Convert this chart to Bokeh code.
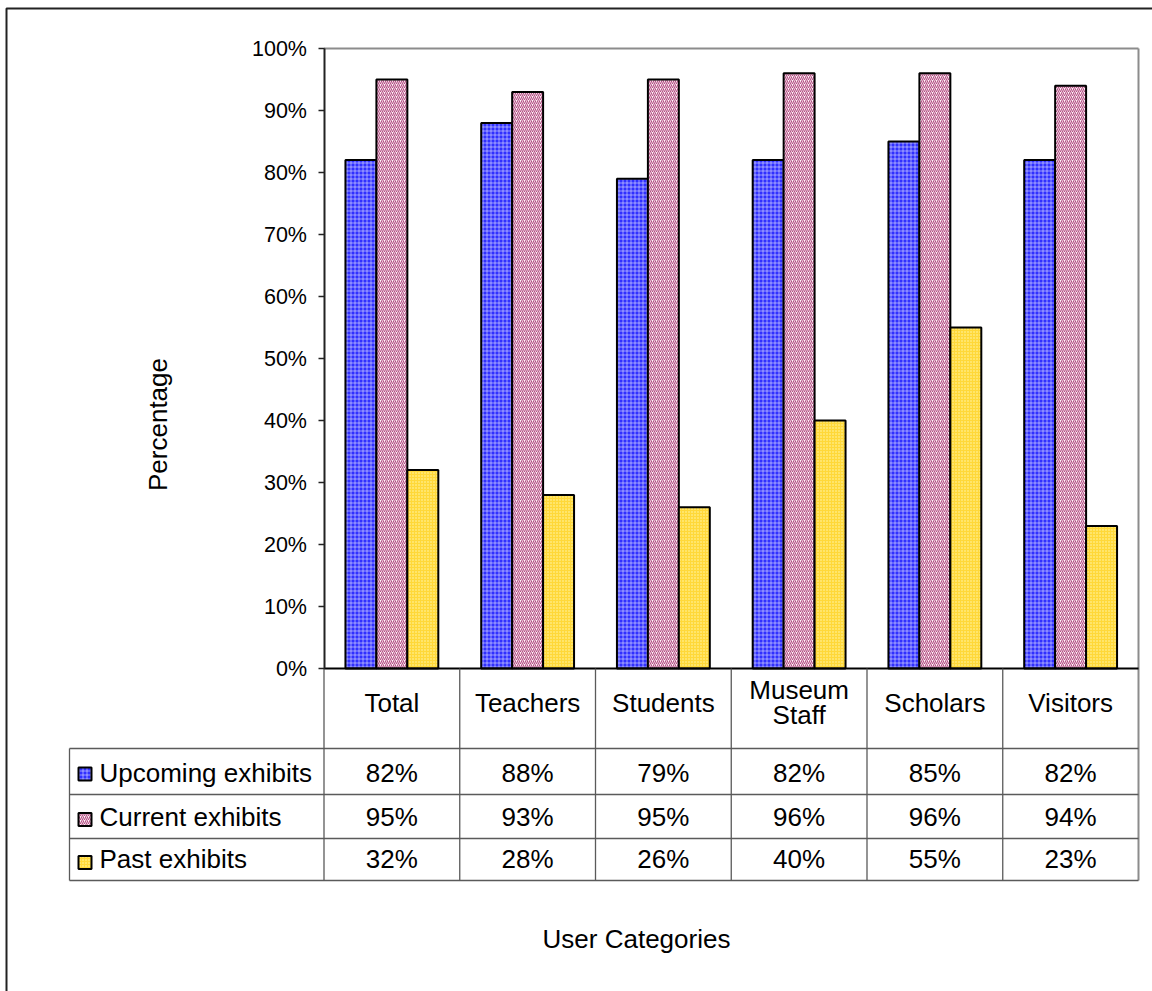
import numpy as np
from bokeh.plotting import figure
from bokeh.models import (ColumnDataSource, Range1d, LinearAxis, FixedTicker,
                          PrintfTickFormatter, Grid)
from bokeh.transform import dodge
from bokeh.core.properties import value
from bokeh.embed import file_html
from bokeh.resources import INLINE

# ---- data -------------------------------------------------------------
categories = ["Total", "Teachers", "Students", "Museum Staff", "Scholars", "Visitors"]
series_names = ["Upcoming exhibits", "Current exhibits", "Past exhibits"]
upcoming = [82, 88, 79, 82, 85, 82]
current = [95, 93, 95, 96, 96, 94]
past = [32, 28, 26, 40, 55, 23]
y_ticks = list(range(0, 101, 10))
x_title = "User Categories"
y_title = "Percentage"

# ---- page geometry (pixels) --------------------------------------------
W, H = 1152, 991
FONT = "Liberation Sans"
PLOT_L, PLOT_R = 323.5, 1138.0
PLOT_T, PLOT_B = 48.0, 668.0
TABLE_ROWS = [668.0, 748.0, 794.0, 838.0, 880.0]   # horizontal rules of the data table
LEGEND_L = 69.0
col_w = (PLOT_R - PLOT_L) / len(categories)
px_per_pct = (PLOT_B - PLOT_T) / 100.0

x_range = Range1d(-PLOT_L / col_w, (W - PLOT_L) / col_w)
y_range = Range1d(-(H - PLOT_B) / px_per_pct, PLOT_B / px_per_pct)

p = figure(width=W, height=H, x_range=x_range, y_range=y_range,
           output_backend="svg", toolbar_location=None,
           x_axis_location=None, y_axis_location=None, min_border=0)
p.center = [r for r in p.center if not isinstance(r, Grid)]
p.outline_line_color = None
p.background_fill_color = "white"
p.border_fill_color = "white"
p.extra_x_ranges = {"px": Range1d(0, W)}
p.extra_y_ranges = {"px": Range1d(H, 0)}

# ---- y axis pinned to the left edge of the plot area --------------------
yaxis = LinearAxis(fixed_location=0, bounds=(0, 100),
                   ticker=FixedTicker(ticks=y_ticks),
                   formatter=PrintfTickFormatter(format="%d%%"))
yaxis.axis_line_color = "#222222"
yaxis.axis_line_width = 2
yaxis.major_tick_line_color = "#222222"
yaxis.major_tick_line_width = 1.5
yaxis.major_tick_out = 6
yaxis.major_tick_in = 0
yaxis.minor_tick_out = 0
yaxis.minor_tick_in = 0
yaxis.major_label_standoff = 11
yaxis.major_label_text_font = FONT
yaxis.major_label_text_font_size = "21.5px"
yaxis.major_label_text_color = "black"
p.add_layout(yaxis, "left")

# ---- plot-area frame and category axis line ----------------------------
p.line(x=[0, len(categories)], y=[100, 100], line_color="#8c8c8c", line_width=2)
p.line(x=[len(categories)] * 2, y=[100, -(TABLE_ROWS[-1] - PLOT_B) / px_per_pct],
       line_color="#8c8c8c", line_width=2)

# ---- bars --------------------------------------------------------------
styles = [
    dict(fill_color="#3030ff", hatch_pattern="+", hatch_color="white",
         hatch_scale=4, hatch_weight=1, hatch_alpha=0.5),
    dict(fill_color="#fff4f9", hatch_pattern="/", hatch_color="#b24d82",
         hatch_scale=4, hatch_weight=1.1),
    dict(fill_color="#ffd839", hatch_pattern=".", hatch_color="#fff6b4",
         hatch_scale=3, hatch_weight=1),
]
series = [upcoming, current, past]
src = ColumnDataSource(dict(x=[i + 0.5 for i in range(len(categories))],
                            upcoming=upcoming, current=current, past=past))
bar_w = 0.228
for k, (col, st) in enumerate(zip(["upcoming", "current", "past"], styles)):
    p.vbar(x=dodge("x", (k - 1) * bar_w), top=col, bottom=0, width=bar_w,
           source=src, line_color="black", line_width=2, **st)

p.line(x=[0, len(categories)], y=[0, 0], line_color="black", line_width=2)

# ---- data table --------------------------------------------------------
grid_xs, grid_ys = [], []
for r in TABLE_ROWS[1:]:
    grid_xs.append([LEGEND_L, PLOT_R])
    grid_ys.append([r, r])
for i in range(len(categories)):
    x = PLOT_L + i * col_w
    grid_xs.append([x, x])
    grid_ys.append([TABLE_ROWS[0], TABLE_ROWS[-1]])
grid_xs.append([LEGEND_L, LEGEND_L])
grid_ys.append([TABLE_ROWS[1], TABLE_ROWS[-1]])
p.multi_line(xs=grid_xs, ys=grid_ys, line_color="#5a5a5a", line_width=1.3,
             x_range_name="px", y_range_name="px")

# category headers (long names wrap onto two lines)
hx, hy, ht = [], [], []
for i, name in enumerate(categories):
    lines = name.split() if len(name) > 10 else [name]
    n = len(lines)
    for j, ln in enumerate(lines):
        hx.append(i + 0.5)
        hy.append(702 + (j - (n - 1) / 2) * 24.5)
        ht.append(ln)
text_kw = dict(text_font=value(FONT), text_font_size="26px", text_color="black")
p.text(x=hx, y=hy, text=ht, text_align="center", text_baseline="alphabetic",
       y_range_name="px", **text_kw)

row_base = [772, 816, 858]
for vals, base in zip(series, row_base):
    p.text(x=[i + 0.5 for i in range(len(categories))], y=[base] * len(vals),
           text=[f"{v}%" for v in vals], text_align="center",
           text_baseline="alphabetic", y_range_name="px", **text_kw)

# legend keys and series names in the first table column
key_centers = [773.5, 819, 862]
for name, st, base, kc in zip(series_names, styles, row_base, key_centers):
    p.rect(x=[84.5], y=[kc], width=13, height=13, line_color="black",
           line_width=2, x_range_name="px", y_range_name="px", **st)
    p.text(x=[99], y=[base], text=[name], text_align="left",
           text_baseline="alphabetic", x_range_name="px", y_range_name="px",
           **text_kw)

# ---- axis titles -------------------------------------------------------
p.text(x=[157], y=[424], text=[y_title], angle=np.pi / 2, text_align="center",
       text_baseline="alphabetic", x_range_name="px", y_range_name="px", **text_kw)
p.text(x=[636], y=[938], text=[x_title], text_align="center",
       text_baseline="alphabetic", x_range_name="px", y_range_name="px", **text_kw)

# ---- outer chart border ------------------------------------------------
p.line(x=[6, 6, W], y=[H, 8, 8], line_color="#222222", line_width=2,
       x_range_name="px", y_range_name="px")

open("out.html", "w").write(file_html(p, INLINE))
